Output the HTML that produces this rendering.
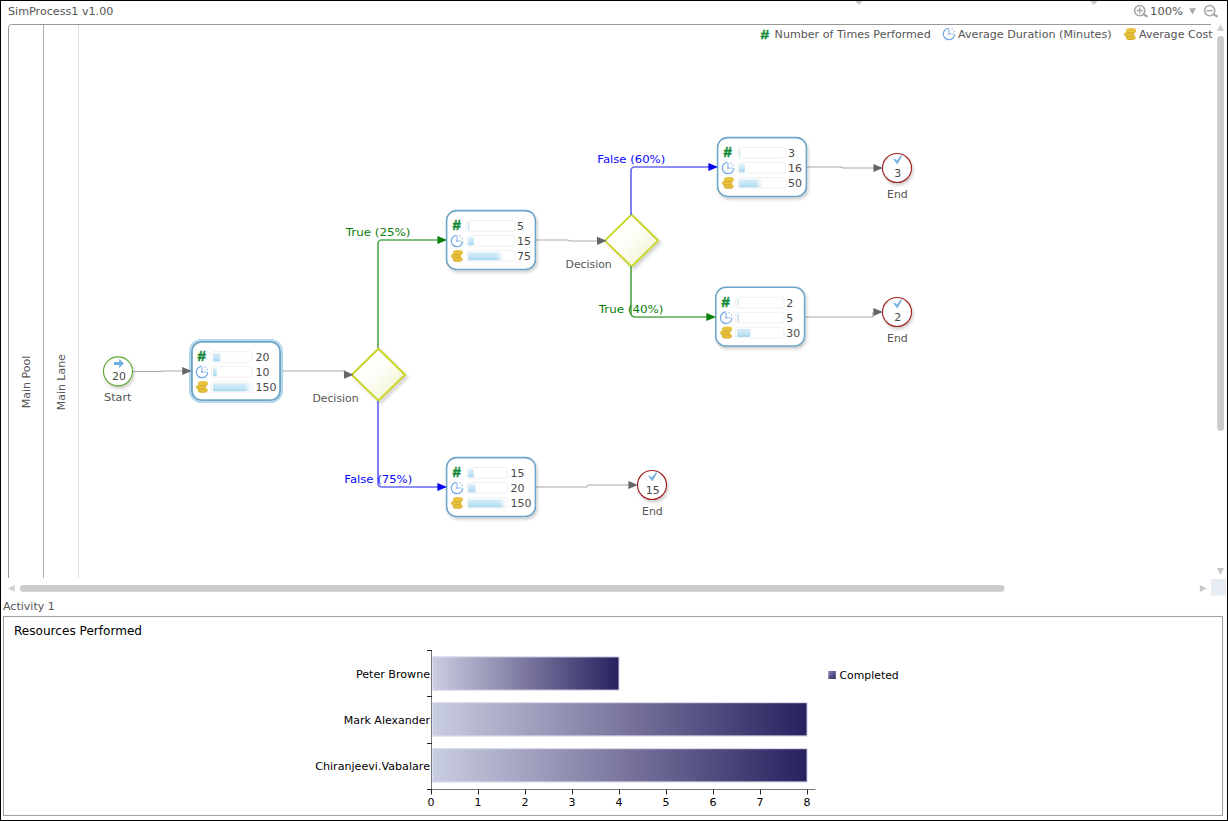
<!DOCTYPE html>
<html lang="en"><head><meta charset="utf-8"><title>SimProcess1 v1.00</title>
<style>
html,body{margin:0;padding:0;background:#fff;overflow:hidden}
#app{position:relative;width:1228px;height:821px;background:#fff;overflow:hidden;font-family:'DejaVu Sans', 'Liberation Sans', sans-serif}
#frame{position:absolute;left:0;top:0;width:1228px;height:821px;box-sizing:border-box;border:1px solid #000;border-bottom-width:1.5px;pointer-events:none}
</style></head><body>
<div id="app">
<svg width="1228" height="821" viewBox="0 0 1228 821" style="position:absolute;left:0;top:0">
<defs>
<filter id="sh" x="-20%" y="-20%" width="150%" height="150%"><feDropShadow dx="1.3" dy="2.2" stdDeviation="1.7" flood-color="#000" flood-opacity="0.2"/></filter>
<filter id="sh2" x="-20%" y="-20%" width="150%" height="150%"><feDropShadow dx="2.4" dy="2.4" stdDeviation="1.6" flood-color="#000" flood-opacity="0.16"/></filter>
<linearGradient id="bf" x1="0" y1="0" x2="0" y2="1"><stop offset="0" stop-color="#d8edf8"/><stop offset="0.6" stop-color="#c4e3f4"/><stop offset="1" stop-color="#a3d6f0"/></linearGradient>
<linearGradient id="wf" x1="0" y1="0" x2="1" y2="0"><stop offset="0" stop-color="#fff" stop-opacity="0"/><stop offset="1" stop-color="#fff" stop-opacity="1"/></linearGradient>
<linearGradient id="dg" x1="0.2" y1="0.2" x2="0.8" y2="0.8"><stop offset="0" stop-color="#ffffff"/><stop offset="0.5" stop-color="#fdfdf7"/><stop offset="1" stop-color="#f2f5d3"/></linearGradient>
<linearGradient id="cb" x1="0" y1="0" x2="1" y2="0"><stop offset="0" stop-color="#c9cde1"/><stop offset="0.5" stop-color="#7b779f"/><stop offset="1" stop-color="#27225f"/></linearGradient>
<linearGradient id="lg" x1="0" y1="0" x2="1" y2="1"><stop offset="0" stop-color="#8c88b4"/><stop offset="1" stop-color="#2c2764"/></linearGradient>
<g id="clock">
  <path d="M-0.3,-5.75 A5.75,5.75 0 1 0 5.75,0.3" fill="none" stroke="#74a9e2" stroke-width="1.25"/>
  <path d="M1.6,-5.5 A5.75,5.75 0 0 1 5.5,-1.6" fill="none" stroke="#8bb7e8" stroke-width="1.2" stroke-dasharray="1.3 1.7" stroke-dashoffset="-0.9"/>
  <path d="M0,-5.2 V0.6" fill="none" stroke="#b4cef1" stroke-width="1.7"/>
  <path d="M0,0 H4.9" fill="none" stroke="#bdd4f3" stroke-width="1.4"/>
  <rect x="-0.9" y="-0.8" width="1.8" height="1.7" fill="#94bbea"/>
</g>
<g id="coins">
  <ellipse cx="0.6" cy="3.9" rx="4.9" ry="2.3" fill="#d3aa2c"/>
  <ellipse cx="0.6" cy="3.2" rx="4.9" ry="2.1" fill="#e6c03c"/>
  <ellipse cx="-0.9" cy="0.7" rx="5" ry="2.3" fill="#d3aa2c"/>
  <ellipse cx="-0.9" cy="0" rx="5" ry="2.1" fill="#e6c03c"/>
  <ellipse cx="0.95" cy="-2.8" rx="4.95" ry="2.4" fill="#d3aa2c"/>
  <ellipse cx="0.95" cy="-3.5" rx="4.95" ry="2.2" fill="#e8c440"/>
</g>
<g id="mag">
  <circle cx="0" cy="0" r="5.1" fill="none" stroke="#a6a6a6" stroke-width="1.6"/>
  <path d="M4,3.9 L7.2,5.6" stroke="#a6a6a6" stroke-width="2.2" stroke-linecap="round"/>
</g>
</defs>
<style>
text{font-family:"DejaVu Sans","Liberation Sans",sans-serif;font-size:11px;fill:#555}
.val{fill:#4a4a4a;font-size:11px}
.lbl{fill:#555}
.hash{font-family:"Liberation Sans",sans-serif;font-weight:bold;font-size:14.2px;fill:#168a3a;stroke:#168a3a;stroke-width:0.5px}
.blk{fill:#000}
</style>

<path d="M8.5,578 V27.5 A3,3 0 0 1 11.5,24.5 H1211" fill="none" stroke="#999" stroke-width="1"/>
<path d="M43.5,25 V578" stroke="#b0b0b0" stroke-width="1"/>
<path d="M78.5,25 V578" stroke="#dedede" stroke-width="1"/>
<text x="8" y="15" textLength="105.34" lengthAdjust="spacingAndGlyphs">SimProcess1 v1.00</text>
<text text-anchor="middle" textLength="52.73" lengthAdjust="spacingAndGlyphs" transform="translate(30.3,382) rotate(-90)">Main Pool</text>
<text text-anchor="middle" textLength="55.97" lengthAdjust="spacingAndGlyphs" transform="translate(64.8,382.2) rotate(-90)">Main Lane</text>
<use href="#mag" x="1139.7" y="10.6"/><path d="M1136.7,10.6 h6 M1139.7,7.6 v6" stroke="#a6a6a6" stroke-width="1.5"/>
<text x="1150.1" y="15" textLength="32.82" lengthAdjust="spacingAndGlyphs">100%</text>
<path d="M1189,8.2 h7 l-3.5,6.4 z" fill="#aaa"/>
<use href="#mag" x="1209.7" y="10.6"/><path d="M1206.7,10.6 h6" stroke="#a6a6a6" stroke-width="1.5"/>
<path d="M855.3,1 h7.2 l-3.6,3.9 z" fill="#c6c6c6"/><path d="M1090.3,1 h7.2 l-3.6,3.9 z" fill="#c6c6c6"/>
<text x="760.5" y="38.7" class="hash" style="font-size:13.6px" textLength="8.6" lengthAdjust="spacingAndGlyphs">#</text>
<text x="774.6" y="38" textLength="156.14" lengthAdjust="spacingAndGlyphs">Number of Times Performed</text>
<use href="#clock" x="949" y="34"/>
<text x="958" y="38" textLength="153.57" lengthAdjust="spacingAndGlyphs">Average Duration (Minutes)</text>
<use href="#coins" x="1130.1" y="33.8"/>
<text x="1139.0" y="38" textLength="73.58" lengthAdjust="spacingAndGlyphs">Average Cost</text>
<path d="M1217,30.9 h7.1 l-3.55,-6.9 z" fill="#d0d0d0"/>
<rect x="1217.2" y="36" width="6.8" height="395" rx="3.4" fill="#ccc"/>
<path d="M1217,568 h7 l-3.5,6.8 z" fill="#c8c8c8"/>
<path d="M14.8,585 v7 l-6.8,-3.5 z" fill="#d0d0d0"/>
<rect x="20" y="585.1" width="984.5" height="6.7" rx="3.35" fill="#ccc"/>
<path d="M1199.9,585 v7 l7,-3.5 z" fill="#c8c8c8"/>
<rect x="1211" y="579" width="15" height="16.5" fill="#e8edf4"/>
<path d="M351.79999999999995,374.7 L378.4,348.7 L405.0,374.7 L378.4,400.7 Z" fill="url(#dg)" stroke="#ccd32c" stroke-width="2" stroke-linejoin="miter" filter="url(#sh2)"/>
<path d="M604.9,240.6 L631.5,214.6 L658.1,240.6 L631.5,266.6 Z" fill="url(#dg)" stroke="#ccd32c" stroke-width="2" stroke-linejoin="miter" filter="url(#sh2)"/>
<path d="M133,371.5 H161 L162,371 H182" fill="none" stroke="#a8a8a8" stroke-width="1.2"/>
<path d="M283,371 H344.4 V374.5" fill="none" stroke="#a8a8a8" stroke-width="1.2"/>
<path d="M536,240 H568 L569.5,241 H597" fill="none" stroke="#a8a8a8" stroke-width="1.2"/>
<path d="M807,167 H841.5 L843,168 H874" fill="none" stroke="#a8a8a8" stroke-width="1.2"/>
<path d="M805,317 H873 V312" fill="none" stroke="#a8a8a8" stroke-width="1.2"/>
<path d="M536,487 H586.5 L588,485 H629" fill="none" stroke="#a8a8a8" stroke-width="1.2"/>
<path d="M378,348 V243.5 A3.5,3.5 0 0 1 381.5,240 H438" fill="none" stroke="#5aab55" stroke-width="1.7"/>
<path d="M631,266 V313.5 A3.5,3.5 0 0 0 634.5,317 H707" fill="none" stroke="#5aab55" stroke-width="1.7"/>
<path d="M378,401 V483.5 A3.5,3.5 0 0 0 381.5,487 H438" fill="none" stroke="#6969f7" stroke-width="1.7"/>
<path d="M631,215 V170.5 A3.5,3.5 0 0 1 634.5,167 H709" fill="none" stroke="#6969f7" stroke-width="1.7"/>
<text x="345.8" y="236" style="fill:#0a800a" textLength="64.67" lengthAdjust="spacingAndGlyphs">True (25%)</text>
<text x="344.3" y="483" style="fill:#0808fa" textLength="67.91" lengthAdjust="spacingAndGlyphs">False (75%)</text>
<text x="597.3" y="163" style="fill:#0808fa" textLength="67.91" lengthAdjust="spacingAndGlyphs">False (60%)</text>
<text x="598.8" y="313" style="fill:#0a800a" textLength="64.67" lengthAdjust="spacingAndGlyphs">True (40%)</text>
<text x="312.4" y="402" textLength="46.16" lengthAdjust="spacingAndGlyphs">Decision</text>
<text x="565.6" y="267.8" textLength="46.16" lengthAdjust="spacingAndGlyphs">Decision</text>
<circle cx="118" cy="371.3" r="14.5" fill="#fff" stroke="#5fa82e" stroke-width="1.15" filter="url(#sh)"/>
<path d="M114,362.1 H119.2 V359.0 L123.9,363.5 L119.2,368.0 V364.9 H114 Z" fill="#6eaee0"/>
<text x="118.9" y="379.90000000000003" class="val" text-anchor="middle" textLength="13.99" lengthAdjust="spacingAndGlyphs">20</text>
<text x="117.8" y="401.1" class="lbl" text-anchor="middle" textLength="27.49" lengthAdjust="spacingAndGlyphs">Start</text>
<circle cx="897" cy="168" r="14.5" fill="#fff" stroke="#a32222" stroke-width="1.15" filter="url(#sh)"/>
<path d="M893.4,159.6 L894.6,158.4 L896.8,160.4 L900.8,155.6 L902.3,155.8 L897.4,164.5 Z" fill="#78b3e4"/>
<text x="897.8" y="177.0" class="val" text-anchor="middle" textLength="6.99" lengthAdjust="spacingAndGlyphs">3</text>
<text x="897.4" y="197.8" class="lbl" text-anchor="middle" textLength="20.77" lengthAdjust="spacingAndGlyphs">End</text>
<circle cx="897" cy="312" r="14.5" fill="#fff" stroke="#a32222" stroke-width="1.15" filter="url(#sh)"/>
<path d="M893.4,303.6 L894.6,302.4 L896.8,304.4 L900.8,299.6 L902.3,299.8 L897.4,308.5 Z" fill="#78b3e4"/>
<text x="897.8" y="321.0" class="val" text-anchor="middle" textLength="6.99" lengthAdjust="spacingAndGlyphs">2</text>
<text x="897.4" y="341.8" class="lbl" text-anchor="middle" textLength="20.77" lengthAdjust="spacingAndGlyphs">End</text>
<circle cx="652" cy="485" r="14.5" fill="#fff" stroke="#a32222" stroke-width="1.15" filter="url(#sh)"/>
<path d="M648.4,476.6 L649.6,475.4 L651.8,477.4 L655.8,472.6 L657.3,472.8 L652.4,481.5 Z" fill="#78b3e4"/>
<text x="652.8" y="494.0" class="val" text-anchor="middle" textLength="13.99" lengthAdjust="spacingAndGlyphs">15</text>
<text x="652.4" y="514.8" class="lbl" text-anchor="middle" textLength="20.77" lengthAdjust="spacingAndGlyphs">End</text>
<rect x="190" y="340" width="92" height="62" rx="11.5" fill="none" stroke="#b9d8ed" stroke-width="2.2"/>
<rect x="191.9" y="341.9" width="88.2" height="58.2" rx="9.5" fill="#fff" stroke="#6ea5c9" stroke-width="1.9"/>
<text x="197.4" y="361.4" class="hash" textLength="8.3" lengthAdjust="spacingAndGlyphs">#</text>
<use href="#clock" x="202" y="372"/>
<use href="#coins" x="202" y="386.6"/>
<rect x="211.4" y="351.6" width="41" height="10.6" rx="2.6" fill="#fff" stroke="#eeeeee" stroke-width="0.9"/>
<rect x="213" y="353.2" width="7.4" height="8" rx="1" fill="url(#bf)"/>
<text x="255.6" y="361" class="val" textLength="13.99" lengthAdjust="spacingAndGlyphs">20</text>
<rect x="211.4" y="366.6" width="41" height="10.6" rx="2.6" fill="#fff" stroke="#eeeeee" stroke-width="0.9"/>
<rect x="213" y="368.2" width="3.7" height="8" rx="1" fill="url(#bf)"/>
<text x="255.6" y="376" class="val" textLength="13.99" lengthAdjust="spacingAndGlyphs">10</text>
<rect x="211.4" y="381.6" width="41" height="10.6" rx="2.6" fill="#fff" stroke="#eeeeee" stroke-width="0.9"/>
<rect x="213" y="383.2" width="38" height="8" rx="1" fill="url(#bf)"/>
<rect x="244.0" y="382.8" width="7.4" height="8.8" fill="url(#wf)"/>
<text x="255.6" y="391" class="val" textLength="20.98" lengthAdjust="spacingAndGlyphs">150</text>
<rect x="446.6" y="210.6" width="88.8" height="58.8" rx="10" fill="#fff" stroke="#6ea5c9" stroke-width="1.55" filter="url(#sh)"/>
<text x="452.4" y="230.4" class="hash" textLength="8.3" lengthAdjust="spacingAndGlyphs">#</text>
<use href="#clock" x="457" y="241"/>
<use href="#coins" x="457" y="255.6"/>
<rect x="466.4" y="220.6" width="48.5" height="10.6" rx="2.6" fill="#fff" stroke="#eeeeee" stroke-width="0.9"/>
<rect x="468.2" y="222.4" width="1.2" height="7.6" fill="#bfe0f2"/>
<text x="517" y="230" class="val" textLength="6.99" lengthAdjust="spacingAndGlyphs">5</text>
<rect x="466.4" y="235.6" width="48.5" height="10.6" rx="2.6" fill="#fff" stroke="#eeeeee" stroke-width="0.9"/>
<rect x="468" y="237.2" width="6" height="8" rx="1" fill="url(#bf)"/>
<text x="517" y="245" class="val" textLength="13.99" lengthAdjust="spacingAndGlyphs">15</text>
<rect x="466.4" y="250.6" width="48.5" height="10.6" rx="2.6" fill="#fff" stroke="#eeeeee" stroke-width="0.9"/>
<rect x="468" y="252.2" width="35.2" height="8" rx="1" fill="url(#bf)"/>
<rect x="496.2" y="251.8" width="7.4" height="8.8" fill="url(#wf)"/>
<text x="517" y="260" class="val" textLength="13.99" lengthAdjust="spacingAndGlyphs">75</text>
<rect x="717.6" y="137.6" width="88.8" height="58.8" rx="10" fill="#fff" stroke="#6ea5c9" stroke-width="1.55" filter="url(#sh)"/>
<text x="723.4" y="157.4" class="hash" textLength="8.3" lengthAdjust="spacingAndGlyphs">#</text>
<use href="#clock" x="728" y="168"/>
<use href="#coins" x="728" y="182.6"/>
<rect x="737.4" y="147.6" width="48.5" height="10.6" rx="2.6" fill="#fff" stroke="#eeeeee" stroke-width="0.9"/>
<rect x="739.2" y="149.4" width="1" height="7.6" fill="#bfe0f2"/>
<text x="788" y="157" class="val" textLength="6.99" lengthAdjust="spacingAndGlyphs">3</text>
<rect x="737.4" y="162.6" width="48.5" height="10.6" rx="2.6" fill="#fff" stroke="#eeeeee" stroke-width="0.9"/>
<rect x="739" y="164.2" width="6" height="8" rx="1" fill="url(#bf)"/>
<text x="788" y="172" class="val" textLength="13.99" lengthAdjust="spacingAndGlyphs">16</text>
<rect x="737.4" y="177.6" width="48.5" height="10.6" rx="2.6" fill="#fff" stroke="#eeeeee" stroke-width="0.9"/>
<rect x="739" y="179.2" width="23.3" height="8" rx="1" fill="url(#bf)"/>
<rect x="755.3" y="178.8" width="7.4" height="8.8" fill="url(#wf)"/>
<text x="788" y="187" class="val" textLength="13.99" lengthAdjust="spacingAndGlyphs">50</text>
<rect x="715.8000000000001" y="287.3" width="88.8" height="58.8" rx="10" fill="#fff" stroke="#6ea5c9" stroke-width="1.55" filter="url(#sh)"/>
<text x="721.6" y="307.09999999999997" class="hash" textLength="8.3" lengthAdjust="spacingAndGlyphs">#</text>
<use href="#clock" x="726.2" y="317.7"/>
<use href="#coins" x="726.2" y="332.3"/>
<rect x="735.6" y="297.3" width="48.5" height="10.6" rx="2.6" fill="#fff" stroke="#eeeeee" stroke-width="0.9"/>
<rect x="737.4000000000001" y="299.09999999999997" width="1" height="7.6" fill="#bfe0f2"/>
<text x="786.2" y="306.7" class="val" textLength="6.99" lengthAdjust="spacingAndGlyphs">2</text>
<rect x="735.6" y="312.3" width="48.5" height="10.6" rx="2.6" fill="#fff" stroke="#eeeeee" stroke-width="0.9"/>
<rect x="737.4000000000001" y="314.09999999999997" width="1.5" height="7.6" fill="#bfe0f2"/>
<text x="786.2" y="321.7" class="val" textLength="6.99" lengthAdjust="spacingAndGlyphs">5</text>
<rect x="735.6" y="327.3" width="48.5" height="10.6" rx="2.6" fill="#fff" stroke="#eeeeee" stroke-width="0.9"/>
<rect x="737.2" y="328.9" width="13.2" height="8" rx="1" fill="url(#bf)"/>
<text x="786.2" y="336.7" class="val" textLength="13.99" lengthAdjust="spacingAndGlyphs">30</text>
<rect x="446.6" y="457.6" width="88.8" height="58.8" rx="10" fill="#fff" stroke="#6ea5c9" stroke-width="1.55" filter="url(#sh)"/>
<text x="452.4" y="477.4" class="hash" textLength="8.3" lengthAdjust="spacingAndGlyphs">#</text>
<use href="#clock" x="457" y="488"/>
<use href="#coins" x="457" y="502.6"/>
<rect x="466.4" y="467.6" width="41" height="10.6" rx="2.6" fill="#fff" stroke="#eeeeee" stroke-width="0.9"/>
<rect x="468" y="469.2" width="5.7" height="8" rx="1" fill="url(#bf)"/>
<text x="510.6" y="477" class="val" textLength="13.99" lengthAdjust="spacingAndGlyphs">15</text>
<rect x="466.4" y="482.6" width="41" height="10.6" rx="2.6" fill="#fff" stroke="#eeeeee" stroke-width="0.9"/>
<rect x="468" y="484.2" width="7.5" height="8" rx="1" fill="url(#bf)"/>
<text x="510.6" y="492" class="val" textLength="13.99" lengthAdjust="spacingAndGlyphs">20</text>
<rect x="466.4" y="497.6" width="41" height="10.6" rx="2.6" fill="#fff" stroke="#eeeeee" stroke-width="0.9"/>
<rect x="468" y="499.2" width="38" height="8" rx="1" fill="url(#bf)"/>
<rect x="499.0" y="498.8" width="7.4" height="8.8" fill="url(#wf)"/>
<text x="510.6" y="507" class="val" textLength="20.98" lengthAdjust="spacingAndGlyphs">150</text>
<path d="M191.8,371 l-9.6,-4.1 l0,8.2 z" fill="#666"/>
<path d="M353.6,374.7 l-9.6,-4.1 l0,8.2 z" fill="#666"/>
<path d="M606.6,240.8 l-9.6,-4.1 l0,8.2 z" fill="#666"/>
<path d="M883,168 l-9.6,-4.1 l0,8.2 z" fill="#666"/>
<path d="M883,312 l-9.6,-4.1 l0,8.2 z" fill="#666"/>
<path d="M638,485 l-9.6,-4.1 l0,8.2 z" fill="#666"/>
<path d="M447,240 l-9.6,-4.1 l0,8.2 z" fill="#0a800a"/>
<path d="M716,317 l-9.6,-4.1 l0,8.2 z" fill="#0a800a"/>
<path d="M447,487 l-9.6,-4.1 l0,8.2 z" fill="#0505f0"/>
<path d="M718,167 l-9.6,-4.1 l0,8.2 z" fill="#0505f0"/>
<text x="3" y="610" textLength="51.84" lengthAdjust="spacingAndGlyphs">Activity 1</text>
<rect x="3.5" y="616.5" width="1219" height="199" fill="none" stroke="#a4a4a4" stroke-width="1.1"/>
<text x="14" y="634.5" class="blk" style="font-size:12px" textLength="128.04" lengthAdjust="spacingAndGlyphs">Resources Performed</text>
<rect x="432.2" y="656.2" width="187.4" height="34.6" fill="#d9daec"/>
<rect x="433.2" y="657.4000000000001" width="185.3" height="32.2" fill="url(#cb)"/>
<text x="430" y="678.2" class="blk" text-anchor="end" textLength="74.06" lengthAdjust="spacingAndGlyphs">Peter Browne</text>
<rect x="432.2" y="702.0" width="375.5" height="34.6" fill="#d9daec"/>
<rect x="433.2" y="703.2" width="373.4" height="32.2" fill="url(#cb)"/>
<text x="430" y="724.0" class="blk" text-anchor="end" textLength="86.22" lengthAdjust="spacingAndGlyphs">Mark Alexander</text>
<rect x="432.2" y="748.0" width="375.5" height="34.6" fill="#d9daec"/>
<rect x="433.2" y="749.2" width="373.4" height="32.2" fill="url(#cb)"/>
<text x="430" y="770.0" class="blk" text-anchor="end" textLength="114.80" lengthAdjust="spacingAndGlyphs">Chiranjeevi.Vabalare</text>
<path d="M431.5,650 V789.5 H815.5" fill="none" stroke="#777" stroke-width="1"/>
<path d="M427,650.5 H432" stroke="#222" stroke-width="1"/>
<path d="M427,696.5 H432" stroke="#222" stroke-width="1"/>
<path d="M427,743.5 H432" stroke="#222" stroke-width="1"/>
<path d="M427,789.5 H432" stroke="#222" stroke-width="1"/>
<path d="M431.5,789.5 V794.5" stroke="#222" stroke-width="1"/>
<text x="430.9" y="806.3" class="blk" text-anchor="middle" textLength="6.99" lengthAdjust="spacingAndGlyphs">0</text>
<path d="M478.5,789.5 V794.5" stroke="#222" stroke-width="1"/>
<text x="477.9" y="806.3" class="blk" text-anchor="middle" textLength="6.99" lengthAdjust="spacingAndGlyphs">1</text>
<path d="M525.5,789.5 V794.5" stroke="#222" stroke-width="1"/>
<text x="524.9" y="806.3" class="blk" text-anchor="middle" textLength="6.99" lengthAdjust="spacingAndGlyphs">2</text>
<path d="M572.5,789.5 V794.5" stroke="#222" stroke-width="1"/>
<text x="571.9" y="806.3" class="blk" text-anchor="middle" textLength="6.99" lengthAdjust="spacingAndGlyphs">3</text>
<path d="M619.5,789.5 V794.5" stroke="#222" stroke-width="1"/>
<text x="618.9" y="806.3" class="blk" text-anchor="middle" textLength="6.99" lengthAdjust="spacingAndGlyphs">4</text>
<path d="M666.5,789.5 V794.5" stroke="#222" stroke-width="1"/>
<text x="665.9" y="806.3" class="blk" text-anchor="middle" textLength="6.99" lengthAdjust="spacingAndGlyphs">5</text>
<path d="M713.5,789.5 V794.5" stroke="#222" stroke-width="1"/>
<text x="712.9" y="806.3" class="blk" text-anchor="middle" textLength="6.99" lengthAdjust="spacingAndGlyphs">6</text>
<path d="M760.5,789.5 V794.5" stroke="#222" stroke-width="1"/>
<text x="759.9" y="806.3" class="blk" text-anchor="middle" textLength="6.99" lengthAdjust="spacingAndGlyphs">7</text>
<path d="M807.5,789.5 V794.5" stroke="#222" stroke-width="1"/>
<text x="806.9" y="806.3" class="blk" text-anchor="middle" textLength="6.99" lengthAdjust="spacingAndGlyphs">8</text>
<rect x="828.3" y="671" width="7.5" height="8" fill="url(#lg)"/>
<text x="839.5" y="679" class="blk" textLength="59.22" lengthAdjust="spacingAndGlyphs">Completed</text>
</svg>
<div id="frame"></div>
</div>
</body></html>
